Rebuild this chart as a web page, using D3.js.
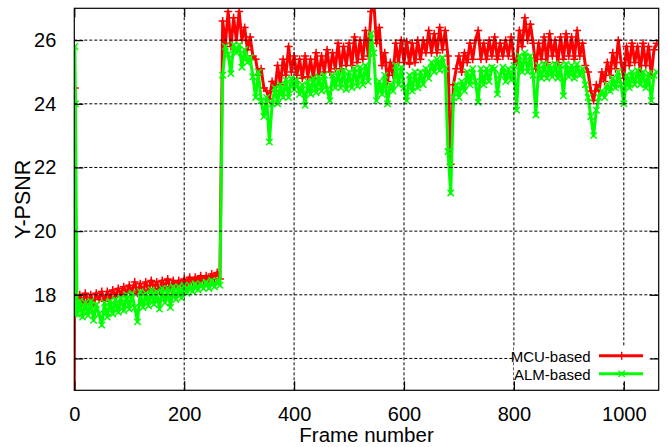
<!DOCTYPE html>
<html>
<head>
<meta charset="utf-8">
<script src="https://cdn.jsdelivr.net/npm/d3@7"></script>
<style>
  html, body { margin: 0; padding: 0; background: #fff; }
  text { font-family: "Liberation Sans", Arial, sans-serif; fill: #000; }
</style>
</head>
<body>
<svg id="chart" width="668" height="447"></svg>
<script>
const xTicks = [0, 200, 400, 600, 800, 1000];
const yTicks = [16, 18, 20, 22, 24, 26];
const seriesNames = ['MCU-based', 'ALM-based'];
const seriesColors = ['#ff0000', '#00ff00'];

// first frames are read one by one, the rest every 5 frames (5 .. 1060)
const headFrames = [0, 1, 2];
const mcuHead = [14.6, 24.5, 17.8];
const almHead = [17.4, 25.8, 24.0];

const mcuPsnr = [
  17.8, 18.0, 17.75, 18.05, 17.8, 18.0, 17.7, 18.05, 17.85, 18.1,
  17.8, 18.1, 17.9, 18.15, 17.95, 18.2, 18.0, 18.25, 18.05, 18.3,
  18.1, 18.4, 18.05, 18.35, 18.1, 18.4, 18.15, 18.45, 18.2, 18.4,
  18.15, 18.45, 18.25, 18.5, 18.2, 18.45, 18.3, 18.45, 18.3, 18.5,
  18.35, 18.55, 18.4, 18.55, 18.4, 18.6, 18.45, 18.6, 18.5, 18.65,
  18.5, 18.7, 18.5, 26.6, 25.9, 26.9, 25.8, 26.7, 26.0, 26.9,
  26.0, 26.4, 25.7, 26.1, 25.5, 25.4, 24.9, 25.1, 24.5, 24.4,
  24.15, 24.7, 24.4, 25.2, 24.6, 25.4, 24.9, 25.8, 25.0, 25.5,
  24.9, 25.4, 24.8, 25.5, 24.85, 25.4, 24.8, 25.6, 24.9, 25.5,
  25.0, 25.7, 25.0, 25.6, 25.1, 25.9, 25.1, 25.8, 25.2, 25.9,
  25.2, 26.1, 25.3, 26.0, 25.4, 26.3, 25.5, 26.9, 27.2, 25.9,
  26.4, 25.2, 25.6, 24.7, 25.3, 24.9, 25.9, 25.3, 26.0, 25.3,
  25.95, 25.25, 25.9, 25.3, 26.0, 25.4, 26.0, 25.6, 26.3, 25.6,
  26.2, 25.6, 26.4, 25.7, 26.3, 25.5, 22.1, 24.6, 25.1, 25.5,
  25.0, 25.6, 25.3, 25.9, 25.4, 26.0, 26.3, 25.4, 25.9, 25.4,
  26.0, 25.5, 26.1, 25.4, 25.9, 25.5, 26.0, 25.5, 26.1, 25.4,
  25.3, 26.3, 25.8, 26.7, 26.0, 26.5, 25.9, 25.1, 25.9, 25.4,
  26.1, 25.3, 26.2, 25.5, 26.0, 25.3, 26.1, 25.4, 26.2, 25.5,
  26.1, 25.4, 26.3, 25.5, 25.9, 25.2, 25.0, 24.4, 24.1, 24.6,
  24.4, 25.0, 24.7, 25.3, 24.9, 25.6, 25.1, 26.0, 25.3, 24.8,
  25.8, 25.2, 25.9, 25.3, 25.8, 25.0, 25.9, 25.2, 25.8, 24.9,
  25.7, 25.9
];

const almPsnr = [
  17.4, 17.8, 17.3, 17.75, 17.35, 17.8, 17.2, 17.7, 17.4, 17.05,
  17.75, 17.3, 17.8, 17.4, 17.85, 17.45, 17.9, 17.5, 18.0, 17.55,
  18.05, 17.6, 17.15, 18.1, 17.6, 18.05, 17.65, 18.15, 17.7, 18.1,
  17.55, 18.2, 17.75, 18.2, 17.6, 18.25, 17.85, 18.25, 17.9, 18.3,
  18.05, 18.3, 18.1, 18.35, 18.15, 18.35, 18.2, 18.4, 18.2, 18.45,
  18.25, 18.45, 18.3, 24.9, 25.8, 25.55, 24.95, 25.85, 25.6, 25.85,
  25.15, 25.7, 25.3, 25.45, 24.85, 24.2, 25.0, 24.1, 23.6, 24.2,
  22.8, 24.0, 24.5, 24.0, 24.6, 24.2, 24.75, 24.2, 24.8, 24.45,
  24.75, 24.3, 24.6, 23.95, 24.7, 24.3, 24.8, 24.35, 24.85, 24.4,
  24.9, 24.45, 24.1, 24.9, 24.5, 25.0, 24.5, 25.05, 24.45, 25.0,
  24.5, 25.1, 24.55, 25.15, 24.6, 25.2, 24.7, 26.2, 25.6, 24.1,
  24.7, 24.3, 24.9, 24.0, 24.6, 24.4, 25.2, 24.6, 25.15, 24.5,
  24.1, 24.9, 24.4, 25.0, 24.5, 25.0, 24.6, 25.1, 24.8, 25.3,
  25.0, 25.4, 25.05, 25.45, 25.1, 22.5, 21.2, 24.2, 24.6, 24.2,
  24.7, 24.4, 25.0, 24.6, 25.1, 24.7, 24.05, 25.1, 24.6, 25.1,
  24.7, 25.15, 25.1, 24.3, 24.9, 25.15, 24.7, 25.1, 24.75, 25.2,
  23.8, 25.5, 25.0, 25.6, 25.0, 25.5, 24.9, 23.65, 25.2, 24.8,
  25.25, 24.8, 25.2, 24.85, 25.25, 24.8, 25.2, 24.25, 25.25, 24.85,
  25.2, 24.8, 25.25, 24.9, 25.1, 24.6, 24.2, 23.6, 23.0, 23.8,
  24.2, 24.4, 24.2, 24.6, 24.4, 24.8, 24.5, 25.0, 24.6, 24.0,
  24.9, 24.5, 25.0, 24.6, 25.05, 24.6, 25.0, 24.5, 24.95, 24.1,
  24.9, 25.0
];

const width = 668;
const height = 447;
const margin = { top: 8.3, right: 9.3, bottom: 56.7, left: 74.3 };

const frames = headFrames.concat(d3.range(5, 1061, 5));
const series = [mcuHead.concat(mcuPsnr), almHead.concat(almPsnr)].map((vals, i) => ({
  name: seriesNames[i],
  color: seriesColors[i],
  marker: i === 0 ? 'plus' : 'cross',
  points: vals.map((v, j) => ({ frame: frames[j], psnr: v })),
}));

const x = d3.scaleLinear().domain([0, 1063.5]).range([margin.left, width - margin.right]);
const y = d3.scaleLinear().domain([15, 27]).range([height - margin.bottom, margin.top]);

const svg = d3.select('#chart');

svg.append('clipPath')
  .attr('id', 'plot-clip')
  .append('rect')
  .attr('x', x.range()[0])
  .attr('y', y.range()[1])
  .attr('width', x.range()[1] - x.range()[0])
  .attr('height', y.range()[0] - y.range()[1]);

const markerPath = (kind, px, py, s) => {
  if (kind === 'plus') return `M${px - s},${py}h${2 * s}M${px},${py - s}v${2 * s}`;
  return `M${px - s},${py - s}l${2 * s},${2 * s}M${px - s},${py + s}l${2 * s},${-2 * s}`;
};

const line = d3.line().x(d => x(d.frame)).y(d => y(d.psnr));

const plot = svg.append('g').attr('clip-path', 'url(#plot-clip)');
series.forEach(s => {
  plot.append('path')
    .datum(s.points)
    .attr('fill', 'none')
    .attr('stroke', s.color)
    .attr('stroke-width', 3)
    .attr('stroke-linejoin', 'round')
    .attr('d', line);
  plot.append('path')
    .attr('fill', 'none')
    .attr('stroke', s.color)
    .attr('stroke-width', 1.5)
    .attr('d', s.points.map(d => markerPath(s.marker, x(d.frame), y(d.psnr), s.marker === 'plus' ? 4 : 3.2)).join(''));
});

// grid drawn over the data, like the original
const grid = svg.append('g')
  .attr('stroke', '#000')
  .attr('stroke-width', 1)
  .attr('stroke-dasharray', '3,2');
grid.selectAll('line.hgrid')
  .data(yTicks)
  .join('line')
  .attr('class', 'hgrid')
  .attr('x1', x.range()[0]).attr('x2', x.range()[1])
  .attr('y1', d => y(d)).attr('y2', d => y(d));
grid.selectAll('line.vgrid')
  .data(xTicks.filter(d => d > 0))
  .join('line')
  .attr('class', 'vgrid')
  .attr('x1', d => x(d)).attr('x2', d => x(d))
  .attr('y1', y.range()[0]).attr('y2', y.range()[1]);

// legend with opaque background
const legend = svg.append('g');
legend.append('rect')
  .attr('x', 514).attr('y', 347)
  .attr('width', 137).attr('height', 36)
  .attr('fill', '#fff');
series.forEach((s, i) => {
  const ly = 355.7 + i * 18;
  legend.append('text')
    .attr('x', 590.7)
    .attr('y', ly + 6)
    .attr('text-anchor', 'end')
    .attr('font-size', 15)
    .text(s.name);
  legend.append('line')
    .attr('x1', 599).attr('x2', 643)
    .attr('y1', ly).attr('y2', ly)
    .attr('stroke', s.color)
    .attr('stroke-width', 3);
  legend.append('path')
    .attr('fill', 'none')
    .attr('stroke', s.color)
    .attr('stroke-width', 1.4)
    .attr('d', markerPath(s.marker, 621.7, ly, s.marker === 'plus' ? 4 : 3.2));
});

// border and inward ticks
svg.append('rect')
  .attr('x', x.range()[0]).attr('y', y.range()[1])
  .attr('width', x.range()[1] - x.range()[0])
  .attr('height', y.range()[0] - y.range()[1])
  .attr('fill', 'none')
  .attr('stroke', '#000')
  .attr('stroke-width', 1.2);

svg.append('g')
  .attr('transform', `translate(0,${y.range()[0]})`)
  .call(d3.axisBottom(x).tickValues(xTicks).tickSize(-9).tickPadding(17).tickFormat(d3.format('d')))
  .call(g => g.select('.domain').remove())
  .call(g => g.selectAll('text').attr('font-size', 20).attr('font-family', null));

svg.append('g')
  .attr('transform', `translate(0,${y.range()[1]})`)
  .call(d3.axisTop(x).tickValues(xTicks).tickSize(-9).tickFormat(''))
  .call(g => g.select('.domain').remove());

svg.append('g')
  .attr('transform', `translate(${x.range()[0]},0)`)
  .call(d3.axisLeft(y).tickValues(yTicks).tickSize(-9).tickPadding(18).tickFormat(d3.format('d')))
  .call(g => g.select('.domain').remove())
  .call(g => g.selectAll('text').attr('font-size', 20).attr('font-family', null));

svg.append('g')
  .attr('transform', `translate(${x.range()[1]},0)`)
  .call(d3.axisRight(y).tickValues(yTicks).tickSize(-9).tickFormat(''))
  .call(g => g.select('.domain').remove());

svg.selectAll('.tick line').attr('stroke', '#000').attr('stroke-width', 1.2);

svg.append('text')
  .attr('x', (x.range()[0] + x.range()[1]) / 2)
  .attr('y', 442.3)
  .attr('text-anchor', 'middle')
  .attr('font-size', 20.5)
  .text('Frame number');

svg.append('text')
  .attr('transform', `translate(30,${(y.range()[0] + y.range()[1]) / 2}) rotate(-90)`)
  .attr('text-anchor', 'middle')
  .attr('font-size', 21.5)
  .text('Y-PSNR');
</script>
</body>
</html>
